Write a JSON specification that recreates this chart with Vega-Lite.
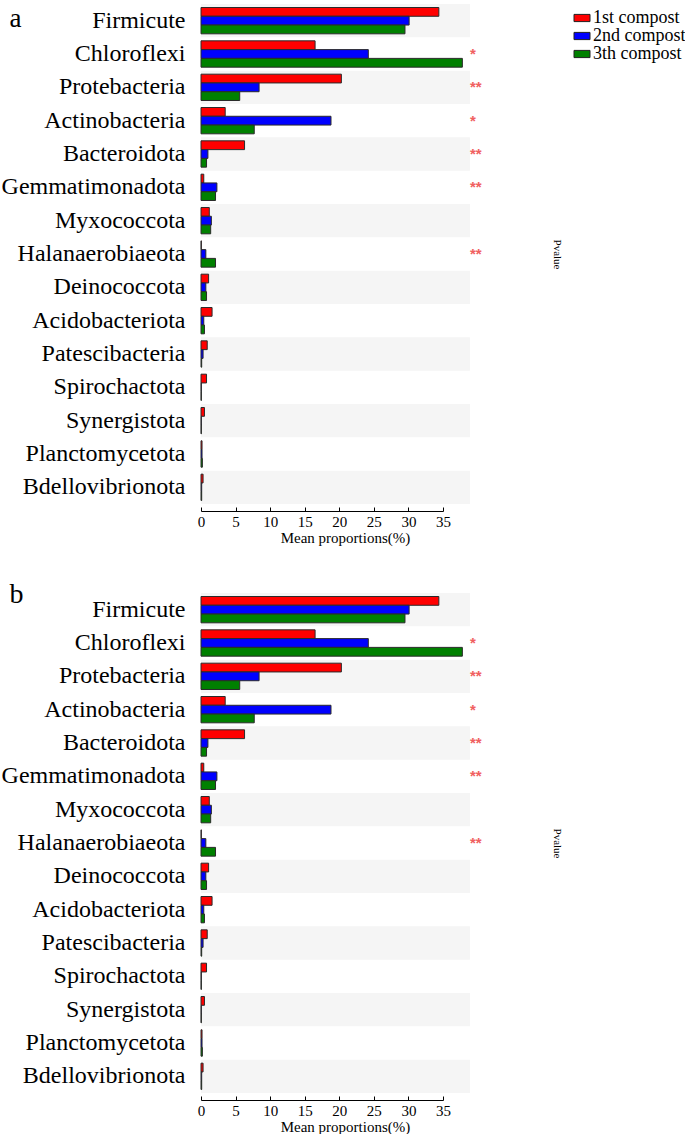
{
  "$schema": "https://vega.github.io/schema/vega-lite/v6.json",
  "padding": {"left": 1, "top": 3, "right": 0, "bottom": 0},
  "background": "white",
  "config": {
    "font": "Liberation Serif",
    "view": {"stroke": null},
    "concat": {"spacing": 35},
    "axisX": {
      "labelFont": "Liberation Serif", "labelFontSize": 15, "labelColor": "black",
      "titleFont": "Liberation Serif", "titleFontSize": 15, "titleFontWeight": "normal", "titleColor": "black",
      "labelFlush": false, "grid": false, "offset": 7, "tickSize": -4, "labelPadding": 7,
      "domainColor": "black", "tickColor": "black", "titleX": 144, "titlePadding": 1
    }
  },
  "datasets": {
    "bars": [
      {"phylum": "Firmicute", "group": "1st compost", "value": 34.4},
      {"phylum": "Firmicute", "group": "2nd compost", "value": 30.1},
      {"phylum": "Firmicute", "group": "3th compost", "value": 29.5},
      {"phylum": "Chloroflexi", "group": "1st compost", "value": 16.5},
      {"phylum": "Chloroflexi", "group": "2nd compost", "value": 24.2},
      {"phylum": "Chloroflexi", "group": "3th compost", "value": 37.8},
      {"phylum": "Protebacteria", "group": "1st compost", "value": 20.3},
      {"phylum": "Protebacteria", "group": "2nd compost", "value": 8.4},
      {"phylum": "Protebacteria", "group": "3th compost", "value": 5.6},
      {"phylum": "Actinobacteria", "group": "1st compost", "value": 3.5},
      {"phylum": "Actinobacteria", "group": "2nd compost", "value": 18.8},
      {"phylum": "Actinobacteria", "group": "3th compost", "value": 7.7},
      {"phylum": "Bacteroidota", "group": "1st compost", "value": 6.3},
      {"phylum": "Bacteroidota", "group": "2nd compost", "value": 1.0},
      {"phylum": "Bacteroidota", "group": "3th compost", "value": 0.8},
      {"phylum": "Gemmatimonadota", "group": "1st compost", "value": 0.4},
      {"phylum": "Gemmatimonadota", "group": "2nd compost", "value": 2.3},
      {"phylum": "Gemmatimonadota", "group": "3th compost", "value": 2.1},
      {"phylum": "Myxococcota", "group": "1st compost", "value": 1.2},
      {"phylum": "Myxococcota", "group": "2nd compost", "value": 1.5},
      {"phylum": "Myxococcota", "group": "3th compost", "value": 1.4},
      {"phylum": "Halanaerobiaeota", "group": "1st compost", "value": 0.05},
      {"phylum": "Halanaerobiaeota", "group": "2nd compost", "value": 0.7},
      {"phylum": "Halanaerobiaeota", "group": "3th compost", "value": 2.1},
      {"phylum": "Deinococcota", "group": "1st compost", "value": 1.1},
      {"phylum": "Deinococcota", "group": "2nd compost", "value": 0.7},
      {"phylum": "Deinococcota", "group": "3th compost", "value": 0.8},
      {"phylum": "Acidobacteriota", "group": "1st compost", "value": 1.6},
      {"phylum": "Acidobacteriota", "group": "2nd compost", "value": 0.4},
      {"phylum": "Acidobacteriota", "group": "3th compost", "value": 0.5},
      {"phylum": "Patescibacteria", "group": "1st compost", "value": 0.9},
      {"phylum": "Patescibacteria", "group": "2nd compost", "value": 0.3},
      {"phylum": "Patescibacteria", "group": "3th compost", "value": 0.1},
      {"phylum": "Spirochactota", "group": "1st compost", "value": 0.8},
      {"phylum": "Spirochactota", "group": "2nd compost", "value": 0.05},
      {"phylum": "Spirochactota", "group": "3th compost", "value": 0.05},
      {"phylum": "Synergistota", "group": "1st compost", "value": 0.5},
      {"phylum": "Synergistota", "group": "2nd compost", "value": 0.05},
      {"phylum": "Synergistota", "group": "3th compost", "value": 0.05},
      {"phylum": "Planctomycetota", "group": "1st compost", "value": 0.15},
      {"phylum": "Planctomycetota", "group": "2nd compost", "value": 0.15},
      {"phylum": "Planctomycetota", "group": "3th compost", "value": 0.2},
      {"phylum": "Bdellovibrionota", "group": "1st compost", "value": 0.3},
      {"phylum": "Bdellovibrionota", "group": "2nd compost", "value": 0.1},
      {"phylum": "Bdellovibrionota", "group": "3th compost", "value": 0.1}
    ],
    "phyla": [
      {"phylum": "Firmicute", "shade": 1, "sig": ""},
      {"phylum": "Chloroflexi", "shade": 0, "sig": "*"},
      {"phylum": "Protebacteria", "shade": 1, "sig": "**"},
      {"phylum": "Actinobacteria", "shade": 0, "sig": "*"},
      {"phylum": "Bacteroidota", "shade": 1, "sig": "**"},
      {"phylum": "Gemmatimonadota", "shade": 0, "sig": "**"},
      {"phylum": "Myxococcota", "shade": 1, "sig": ""},
      {"phylum": "Halanaerobiaeota", "shade": 0, "sig": "**"},
      {"phylum": "Deinococcota", "shade": 1, "sig": ""},
      {"phylum": "Acidobacteriota", "shade": 0, "sig": ""},
      {"phylum": "Patescibacteria", "shade": 1, "sig": ""},
      {"phylum": "Spirochactota", "shade": 0, "sig": ""},
      {"phylum": "Synergistota", "shade": 1, "sig": ""},
      {"phylum": "Planctomycetota", "shade": 0, "sig": ""},
      {"phylum": "Bdellovibrionota", "shade": 1, "sig": ""}
    ]
  },
  "resolve": {"legend": {"color": "independent"}},
  "vconcat": [
    {
      "width": 242,
      "height": 500,
      "resolve": {"axis": {"y": "independent"}},
      "layer": [
        {
          "data": {"name": "phyla"},
          "transform": [{"filter": "datum.shade == 1"}],
          "mark": {"type": "rect", "color": "#f5f5f5"},
          "encoding": {
            "y": {"field": "phylum", "type": "nominal",
                  "scale": {"domain": ["Firmicute","Chloroflexi","Protebacteria","Actinobacteria","Bacteroidota","Gemmatimonadota","Myxococcota","Halanaerobiaeota","Deinococcota","Acidobacteriota","Patescibacteria","Spirochactota","Synergistota","Planctomycetota","Bdellovibrionota"], "paddingInner": 0, "paddingOuter": 0},
                  "axis": {"title": "a", "titleAngle": 0, "titleX": -192, "titleY": 22, "titleAlign": "left", "titleBaseline": "alphabetic", "titleFont": "Liberation Serif", "titleFontSize": 27, "titleFontWeight": "normal", "titleColor": "black",
                           "domain": false, "ticks": false, "labelFont": "Liberation Serif", "labelFontSize": 24, "labelColor": "black", "labelPadding": 16, "labelLimit": 400}},
            "x": {"datum": 0, "type": "quantitative", "scale": {"domain": [0, 35], "nice": false}, "axis": {"title": "Mean proportions(%)", "labelFont": "Liberation Serif"}},
            "x2": {"datum": 38.9}
          }
        },
        {
          "data": {"name": "bars"},
          "mark": {"type": "bar", "stroke": "#2a2a2a", "strokeWidth": 1},
          "encoding": {
            "y": {"field": "phylum", "type": "nominal", "axis": null},
            "yOffset": {"field": "group", "type": "nominal", "sort": ["1st compost","2nd compost","3th compost"], "scale": {"paddingInner": 0, "paddingOuter": 0.4}},
            "x": {"field": "value", "type": "quantitative", "axis": {"title": "Mean proportions(%)", "labelFont": "Liberation Serif"}},
            "color": {"field": "group", "type": "nominal",
                      "scale": {"domain": ["1st compost","2nd compost","3th compost"], "range": ["#ff0000","#0000ff","#008000"]},
                      "legend": {"orient": "none", "legendX": 372, "legendY": 5, "title": null, "padding": 0,
                                 "labelFont": "Liberation Serif", "labelFontSize": 18, "labelColor": "black", "labelOffset": 2,
                                 "symbolType": "M-2,-0.9L2,-0.9L2,0.9L-2,0.9Z", "symbolSize": 64,
                                 "symbolStrokeColor": "#222", "symbolStrokeWidth": 1, "rowPadding": -4}}
          }
        },
        {
          "data": {"name": "phyla"},
          "mark": {"type": "text", "align": "left", "baseline": "middle", "font": "Liberation Sans", "fontSize": 15, "fontWeight": "bold", "color": "#f06060"},
          "encoding": {
            "y": {"field": "phylum", "type": "nominal",
                  "axis": {"orient": "right", "title": "Pvalue", "labels": false, "ticks": false, "domain": false, "titleAngle": 90, "titleFont": "Liberation Serif", "titleFontSize": 11, "titleFontWeight": "normal", "titleColor": "black", "titlePadding": 108}},
            "x": {"datum": 38.9, "type": "quantitative", "axis": {"title": "Mean proportions(%)", "labelFont": "Liberation Serif"}},
            "text": {"field": "sig"}
          }
        }
      ]
    },
    {
      "width": 242,
      "height": 500,
      "resolve": {"axis": {"y": "independent"}},
      "layer": [
        {
          "data": {"name": "phyla"},
          "transform": [{"filter": "datum.shade == 1"}],
          "mark": {"type": "rect", "color": "#f5f5f5"},
          "encoding": {
            "y": {"field": "phylum", "type": "nominal",
                  "scale": {"domain": ["Firmicute","Chloroflexi","Protebacteria","Actinobacteria","Bacteroidota","Gemmatimonadota","Myxococcota","Halanaerobiaeota","Deinococcota","Acidobacteriota","Patescibacteria","Spirochactota","Synergistota","Planctomycetota","Bdellovibrionota"], "paddingInner": 0, "paddingOuter": 0},
                  "axis": {"title": "b", "titleAngle": 0, "titleX": -192, "titleY": 9, "titleAlign": "left", "titleBaseline": "alphabetic", "titleFont": "Liberation Serif", "titleFontSize": 28, "titleFontWeight": "normal", "titleColor": "black",
                           "domain": false, "ticks": false, "labelFont": "Liberation Serif", "labelFontSize": 24, "labelColor": "black", "labelPadding": 16, "labelLimit": 400}},
            "x": {"datum": 0, "type": "quantitative", "scale": {"domain": [0, 35], "nice": false}, "axis": {"title": "Mean proportions(%)", "labelFont": "Liberation Serif"}},
            "x2": {"datum": 38.9}
          }
        },
        {
          "data": {"name": "bars"},
          "mark": {"type": "bar", "stroke": "#2a2a2a", "strokeWidth": 1},
          "encoding": {
            "y": {"field": "phylum", "type": "nominal", "axis": null},
            "yOffset": {"field": "group", "type": "nominal", "sort": ["1st compost","2nd compost","3th compost"], "scale": {"paddingInner": 0, "paddingOuter": 0.4}},
            "x": {"field": "value", "type": "quantitative", "axis": {"title": "Mean proportions(%)", "labelFont": "Liberation Serif"}},
            "color": {"field": "group", "type": "nominal",
                      "scale": {"domain": ["1st compost","2nd compost","3th compost"], "range": ["#ff0000","#0000ff","#008000"]},
                      "legend": null}
          }
        },
        {
          "data": {"name": "phyla"},
          "mark": {"type": "text", "align": "left", "baseline": "middle", "font": "Liberation Sans", "fontSize": 15, "fontWeight": "bold", "color": "#f06060"},
          "encoding": {
            "y": {"field": "phylum", "type": "nominal",
                  "axis": {"orient": "right", "title": "Pvalue", "labels": false, "ticks": false, "domain": false, "titleAngle": 90, "titleFont": "Liberation Serif", "titleFontSize": 11, "titleFontWeight": "normal", "titleColor": "black", "titlePadding": 108}},
            "x": {"datum": 38.9, "type": "quantitative", "axis": {"title": "Mean proportions(%)", "labelFont": "Liberation Serif"}},
            "text": {"field": "sig"}
          }
        }
      ]
    }
  ]
}
